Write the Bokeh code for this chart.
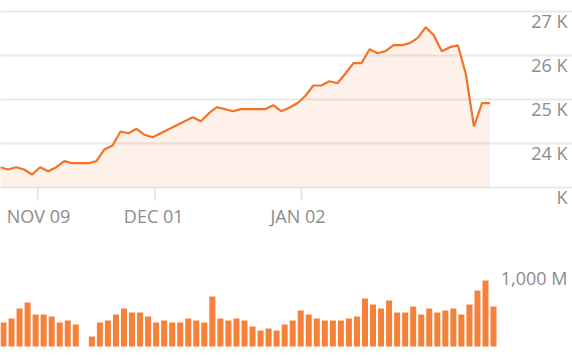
from bokeh.plotting import figure
from bokeh.models import Range1d, Grid, FixedTicker
from bokeh.core.properties import value
from bokeh.embed import file_html
from bokeh.resources import INLINE

NAN = float("nan")

# ---- data ----
price = [23461, 23409, 23461, 23409, 23295, 23461, 23370, 23461, 23598, 23552,
         23552, 23552, 23598, 23864, 23955, 24273, 24234, 24334, 24198, 24143,
         24234, 24325, 24416, 24507, 24598, 24507, 24689, 24825, 24780, 24734,
         24780, 24780, 24780, 24780, 24870, 24734, 24811, 24916, 25080, 25318,
         25318, 25416, 25370, 25591, 25825, 25825, 26143, 26052, 26098, 26234,
         26234, 26280, 26402, 26643, 26461, 26098, 26189, 26234, 25568, 24386,
         24916, 24916]

volume_m = [306, 358, 485, 562, 409, 409, 383, 306, 332, 281,
            NAN, 128, 306, 332, 409, 485, 434, 434, 383, 306,
            332, 306, 306, 358, 332, 306, 639, 358, 332, 358,
            332, 255, 204, 230, 204, 281, 332, 460, 409, 358,
            332, 332, 332, 358, 383, 613, 536, 485, 587, 434,
            434, 511, 409, 485, 434, 460, 485, 409, 536, 715,
            843, 511]

x_tick_pos = [4.70, 19.27, 37.53]
x_tick_labels = ["NOV 09", "DEC 01", "JAN 02"]

price_ticks = [23000, 24000, 25000, 26000, 27000]
price_tick_labels = ["K", "24 K", "25 K", "26 K", "27 K"]

vol_ticks = [1000]
vol_tick_labels = ["1,000 M"]

# ---- styles ----
W, H = 572, 356
LINE = "#F37225"
BAR = "#F5813A"
GRID = "#EAEAEA"
TXT = "#8C8C8C"
FONT = value("Open Sans")
FS = "18px"

idx = list(range(len(price)))

X0 = 0.06
XSPAN = 71.206
Y0, Y1 = 19159.0, 27250.0
V0, V1 = -127.7, 4418.9

p = figure(width=W, height=H, output_backend="svg", toolbar_location=None,
           x_axis_type=None, y_axis_type=None, min_border=0,
           outline_line_color=None, background_fill_color="white",
           border_fill_color="white",
           x_range=Range1d(X0, X0 + XSPAN), y_range=Range1d(Y0, Y1))
p.extra_x_ranges = {"bars": Range1d(-0.3735, -0.3735 + XSPAN)}
p.extra_y_ranges = {"vol": Range1d(V0, V1)}

p.add_layout(Grid(dimension=1, ticker=FixedTicker(ticks=price_ticks),
                  grid_line_color=GRID, grid_line_width=2))

base = price_ticks[0]
p.varea(x=idx, y1=base, y2=price, fill_color=LINE, fill_alpha=0.1)
p.line(idx, price, line_color=LINE, line_width=2.2)

p.vbar(x=idx, top=volume_m, bottom=0, width=0.747, x_range_name="bars",
       y_range_name="vol", fill_color=BAR, line_color=None)

# x ticks (short marks below the price baseline)
unit = (Y1 - Y0) / H
p.segment(x0=x_tick_pos, x1=x_tick_pos, y0=base, y1=base - 13 * unit,
          line_color="#E6E6E6", line_width=2)

p.text(x=x_tick_pos, y=[base] * len(x_tick_pos), text=x_tick_labels,
       text_align="left", text_baseline="alphabetic", x_offset=-31, y_offset=29,
       text_font=FONT, text_font_size=FS, text_color=TXT)

xr = X0 + XSPAN
p.text(x=[xr] * len(price_ticks), y=price_ticks, text=price_tick_labels,
       text_align="right", text_baseline="alphabetic", x_offset=-5, y_offset=10,
       text_font=FONT, text_font_size=FS, text_color=TXT)

p.text(x=[xr] * len(vol_ticks), y=vol_ticks, text=vol_tick_labels,
       y_range_name="vol",
       text_align="right", text_baseline="alphabetic", x_offset=-5, y_offset=10,
       text_font=FONT, text_font_size=FS, text_color=TXT)

open("out.html", "w").write(file_html(p, INLINE))
